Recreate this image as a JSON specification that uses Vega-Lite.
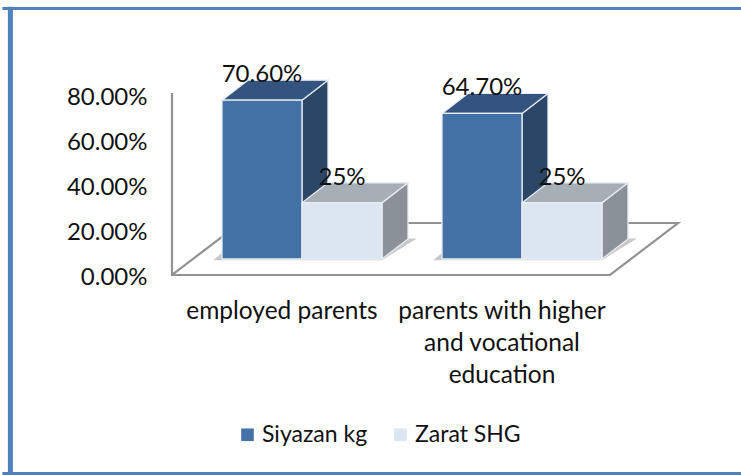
{
"$schema":"https://vega.github.io/schema/vega-lite/v6.json",
"width":741,"height":475,"padding":0,"autosize":{"type":"none"},
"background":"white",
"config":{"view":{"stroke":null},"font":"Lato",
 "axisY":{"offset":-147,"domain":false,"ticks":false,"grid":false,"labelPadding":0,"labelOffset":3,"labelFontSize":24,"labelFont":"Lato","labelColor":"#111111","labelExpr":"format(datum.value,'.2f')+'%'"}},
"data":{"values":[
{"category":"employed parents","series":"Siyazan kg","value":70.6,"label":"70.60%"},
{"category":"employed parents","series":"Zarat SHG","value":25,"label":"25%"},
{"category":"parents with higher and vocational education","series":"Siyazan kg","value":64.7,"label":"64.70%"},
{"category":"parents with higher and vocational education","series":"Zarat SHG","value":25,"label":"25%"}
]},
"transform":[
{"calculate":"(datum.category=='employed parents'?0.625:3.375)+(datum.series=='Siyazan kg'?0:1)","as":"left"},
{"calculate":"datum.left+1","as":"right"},
{"calculate":"7.11","as":"base"},
{"calculate":"datum.base+datum.value","as":"top"},
{"calculate":"datum.category+datum.series","as":"bar"},
{"calculate":"[0,1]","as":"d"},
{"flatten":["d"]},
{"calculate":"datum.d*0.325","as":"du"},
{"calculate":"datum.d*8.89","as":"dv"},
{"calculate":"datum.right+datum.du","as":"sideX"},
{"calculate":"datum.top+datum.dv","as":"sideTop"},
{"calculate":"datum.base+datum.dv","as":"sideBase"},
{"calculate":"datum.left+datum.du","as":"topLeft"},
{"calculate":"datum.left-0.11+datum.du*1.0","as":"shLeft"},
{"calculate":"datum.left+2+datum.du*1.34","as":"shRight"},
{"calculate":"6.6+datum.d*9.6","as":"shY"}
],
"layer":[
{"mark":{"type":"line","stroke":"#929292","strokeWidth":2.2,"strokeJoin":"miter"},
 "data":{"values":[
 {"u":0,"v":80.9,"o":0},{"u":0,"v":0,"o":1},{"u":5.475,"v":0,"o":2},{"u":6.325,"v":23.1,"o":3},{"u":0.85,"v":23.1,"o":4},{"u":0,"v":0,"o":5}]},
 "transform":[],
 "encoding":{
  "x":{"field":"u","type":"quantitative","axis":null,"scale":{"domain":[-2.15,7.1125],"nice":false,"zero":false}},
  "y":{"field":"v","type":"quantitative","title":null,"axis":{"values":[0,20,40,60,80]},"scale":{"domain":[-88.89,122.22],"nice":false,"zero":false}},
  "order":{"field":"o","type":"quantitative"}}},
{"transform":[{"filter":"datum.series=='Siyazan kg'"}],
 "mark":{"type":"area","orient":"horizontal","fill":"#c9c9c9"},
 "encoding":{
  "y":{"field":"shY","type":"quantitative","title":null,"axis":{"values":[0,20,40,60,80]}},
  "x":{"field":"shLeft","type":"quantitative","axis":null},
  "x2":{"field":"shRight"},
  "detail":{"field":"category"}}},
{"mark":{"type":"area","stroke":"#e8ecf2","strokeWidth":1.3},
 "encoding":{
  "x":{"field":"sideX","type":"quantitative","axis":null},
  "y":{"field":"sideTop","type":"quantitative","title":null,"axis":{"values":[0,20,40,60,80]}},
  "y2":{"field":"sideBase"},
  "detail":{"field":"bar"},
  "fill":{"condition":{"test":"datum.series=='Siyazan kg'","value":"#2c4668"},"value":"#8a9199"}}},
{"mark":{"type":"area","orient":"horizontal","stroke":"#e8ecf2","strokeWidth":1.3},
 "encoding":{
  "y":{"field":"sideTop","type":"quantitative","title":null,"axis":{"values":[0,20,40,60,80]}},
  "x":{"field":"topLeft","type":"quantitative","axis":null},
  "x2":{"field":"sideX"},
  "detail":{"field":"bar"},
  "fill":{"condition":{"test":"datum.series=='Siyazan kg'","value":"#34547f"},"value":"#a6aeb6"}}},
{"transform":[{"filter":"datum.d==0"}],
 "mark":{"type":"rect","stroke":"#e8ecf2","strokeWidth":1.3},
 "encoding":{
  "x":{"field":"left","type":"quantitative","axis":null},
  "x2":{"field":"right"},
  "y":{"field":"top","type":"quantitative","title":null,"axis":{"values":[0,20,40,60,80]}},
  "y2":{"field":"base"},
  "color":{"field":"series","type":"nominal","scale":{"domain":["Siyazan kg","Zarat SHG"],"range":["#4472a6","#dce6f2"]},
   "legend":{"title":null,"orient":"none","legendX":236,"legendY":423,"direction":"horizontal","symbolType":"square","symbolSize":160,"symbolStrokeWidth":0,"labelFontSize":23,"labelFont":"Lato","labelColor":"#111111","columnPadding":21,"labelOffset":3}}}},
{"transform":[{"filter":"datum.d==0"},{"calculate":"datum.left+0.5","as":"mid"}],
 "mark":{"type":"text","fontSize":24,"font":"Lato","color":"#111111","baseline":"middle","align":"center","dy":-25},
 "encoding":{
  "x":{"field":"mid","type":"quantitative","axis":null},
  "y":{"field":"top","type":"quantitative","title":null,"axis":{"values":[0,20,40,60,80]}},
  "text":{"field":"label","type":"nominal"}}},
{"data":{"values":[
 {"category":"employed parents","name":"employed parents"},
 {"category":"parents with higher and vocational education","name":"parents with higher\nand vocational\neducation"}]},
 "transform":[{"calculate":"datum.category=='employed parents'?1.375:4.125","as":"cx"},{"calculate":"-19.6","as":"cy"}],
 "mark":{"type":"text","fontSize":24.5,"font":"Lato","color":"#111111","baseline":"alphabetic","align":"center","lineBreak":"\n","lineHeight":32},
 "encoding":{
  "x":{"field":"cx","type":"quantitative","axis":null},
  "y":{"field":"cy","type":"quantitative","title":null,"axis":{"values":[0,20,40,60,80]}},
  "text":{"field":"name","type":"nominal"}}},
{"data":{"values":[{"x1":-2.12,"x2":7.1125,"y1":118.4}]},"transform":[],
 "mark":{"type":"rule","color":"#4f81bd","strokeWidth":3},
 "encoding":{"x":{"field":"x1","type":"quantitative","axis":null},"x2":{"field":"x2"},"y":{"field":"y1","type":"quantitative","title":null,"axis":{"values":[0,20,40,60,80]}}}},
{"data":{"values":[{"x1":-2.12,"x2":7.1125,"y1":-88.2}]},"transform":[],
 "mark":{"type":"rule","color":"#4f81bd","strokeWidth":3},
 "encoding":{"x":{"field":"x1","type":"quantitative","axis":null},"x2":{"field":"x2"},"y":{"field":"y1","type":"quantitative","title":null,"axis":{"values":[0,20,40,60,80]}}}},
{"data":{"values":[{"x1":-2.02,"y1":119.2,"y2":-88.89}]},"transform":[],
 "mark":{"type":"rule","color":"#4f81bd","strokeWidth":5},
 "encoding":{"x":{"field":"x1","type":"quantitative","axis":null},"y":{"field":"y1","type":"quantitative","title":null,"axis":{"values":[0,20,40,60,80]}},"y2":{"field":"y2"}}}
]
}
